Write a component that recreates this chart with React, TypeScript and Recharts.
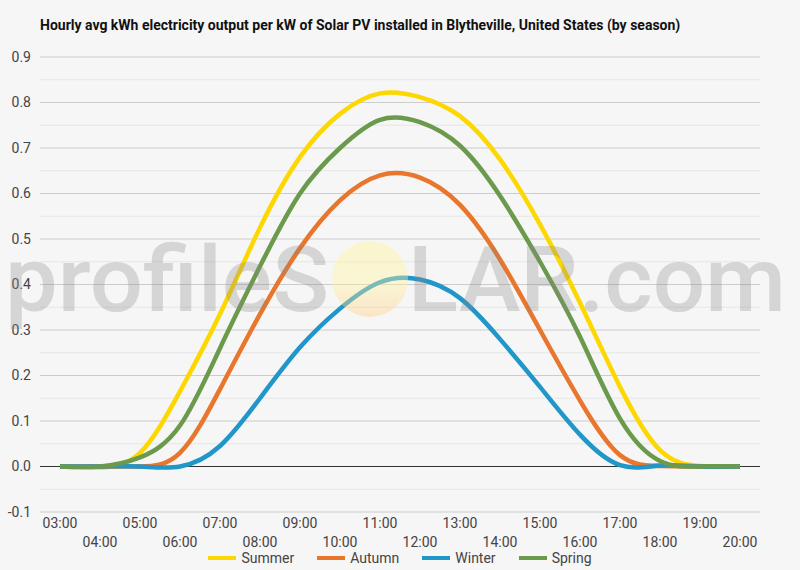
import React from 'react';
import { LineChart, Line, XAxis, YAxis, CartesianGrid } from 'recharts';

document.body.style.margin = '0';

// hours of the day shown on the x axis
const HOURS = [
  '03:00', '04:00', '05:00', '06:00', '07:00', '08:00', '09:00', '10:00', '11:00',
  '12:00', '13:00', '14:00', '15:00', '16:00', '17:00', '18:00', '19:00', '20:00'
];

// avg kWh per kW installed
const SUMMER = [0, -0.002, 0.03, 0.165, 0.335, 0.525, 0.68, 0.775, 0.82, 0.812, 0.77, 0.675, 0.532, 0.36, 0.175, 0.036, 0.001, 0];
const AUTUMN = [0, 0, 0, 0.03, 0.17, 0.335, 0.48, 0.585, 0.64, 0.635, 0.575, 0.455, 0.3, 0.145, 0.025, 0.001, 0, 0];
const WINTER = [0, 0, 0, 0, 0.045, 0.15, 0.262, 0.347, 0.405, 0.411, 0.37, 0.28, 0.175, 0.07, 0.003, 0.002, 0, 0];
const SPRING = [0, 0, 0.02, 0.09, 0.26, 0.44, 0.6, 0.7, 0.762, 0.757, 0.705, 0.595, 0.45, 0.285, 0.105, 0.012, 0, 0];

const Y_TICKS = [-0.1, 0, 0.1, 0.2, 0.3, 0.4, 0.5, 0.6, 0.7, 0.8, 0.9];
const Y_MINOR = [-0.05, 0.05, 0.15, 0.25, 0.35, 0.45, 0.55, 0.65, 0.75, 0.85];

const SERIES = [
  { key: 'Summer', color: '#fdd700', values: SUMMER },
  { key: 'Autumn', color: '#e8762c', values: AUTUMN },
  { key: 'Winter', color: '#2196c9', values: WINTER },
  { key: 'Spring', color: '#6c9a4c', values: SPRING }
];

const data = HOURS.map((hour, i) => {
  const row: any = { hour };
  SERIES.forEach(s => {
    row[s.key] = s.values[i];
  });
  return row;
});

const FONT = 'Roboto, "Noto Sans", sans-serif';

// labels alternate between two rows
const HourTick = (props: any) => {
  const { x, y, payload } = props;
  const idx = props.index ?? payload.index ?? 0;
  return (
    <text x={x} y={y + (idx % 2 ? 35 : 16)} textAnchor="middle" fill="#444" fontSize={14} fontFamily={FONT}>
      {payload.value}
    </text>
  );
};

const Watermark = () => (
  <svg width={800} height={570} style={{ position: 'absolute', left: 0, top: 0, pointerEvents: 'none' }}>
    <defs>
      <linearGradient id="sun" x1="0" y1="0" x2="0" y2="1">
        <stop offset="0%" stopColor="#fff59d" stopOpacity={0.45} />
        <stop offset="55%" stopColor="#fff3a0" stopOpacity={0.4} />
        <stop offset="100%" stopColor="#ffcc80" stopOpacity={0.4} />
      </linearGradient>
    </defs>
    <g fontFamily={FONT} fontSize={90} fontWeight={500} fill="#888" fillOpacity={0.3}>
      <text x={5} y={311} textLength={324} lengthAdjust="spacingAndGlyphs">profileS</text>
      <text x={408} y={311} textLength={378} lengthAdjust="spacingAndGlyphs">LAR.com</text>
    </g>
    <circle cx={370} cy={279} r={38} fill="url(#sun)" />
  </svg>
);

export default function App() {
  return (
    <div style={{ position: 'relative', width: 800, height: 570, background: '#f6f6f6', fontFamily: FONT, overflow: 'hidden' }}>
      <div style={{ position: 'absolute', left: 40, top: 17, fontSize: 14, fontWeight: 700, color: '#111', whiteSpace: 'nowrap' }}>
        Hourly avg kWh electricity output per kW of Solar PV installed in Blytheville, United States (by season)
      </div>

      <div style={{ position: 'absolute', left: 0, top: 0 }}>
        <LineChart width={800} height={570} data={data} margin={{ top: 57, right: 40, bottom: 8, left: 0 }}>
          <CartesianGrid vertical={false} horizontalValues={Y_MINOR} stroke="#e6e6e6" strokeWidth={1} />
          <CartesianGrid vertical={false} horizontalValues={Y_TICKS} stroke="#cccccc" strokeWidth={1} />
          <CartesianGrid vertical={false} horizontalValues={[0]} stroke="#333333" strokeWidth={1} />
          <XAxis
            dataKey="hour"
            interval={0}
            padding={{ left: 20, right: 20 }}
            axisLine={false}
            tickLine={false}
            tickSize={0}
            tickMargin={0}
            height={50}
            tick={<HourTick />}
          />
          <YAxis
            type="number"
            domain={[-0.1, 0.9]}
            ticks={Y_TICKS}
            tickFormatter={(v: number) => v.toFixed(1)}
            axisLine={false}
            tickLine={false}
            tickSize={0}
            tickMargin={9}
            width={40}
            tick={{ fill: '#444', fontSize: 14, fontFamily: FONT }}
          />
          {SERIES.map(s => (
            <Line
              key={s.key}
              type="natural"
              dataKey={s.key}
              stroke={s.color}
              strokeWidth={4.5}
              dot={false}
              activeDot={false}
              isAnimationActive={false}
            />
          ))}
        </LineChart>
      </div>

      <Watermark />

      <div style={{ position: 'absolute', left: 0, top: 549, width: 800, display: 'flex', justifyContent: 'center', gap: 23, fontSize: 14, color: '#444' }}>
        {SERIES.map(s => (
          <div key={s.key} style={{ display: 'flex', alignItems: 'center', height: 18 }}>
            <span style={{ display: 'inline-block', width: 28, height: 4, background: s.color, marginRight: 5 }} />
            <span>{s.key}</span>
          </div>
        ))}
      </div>
    </div>
  );
}
